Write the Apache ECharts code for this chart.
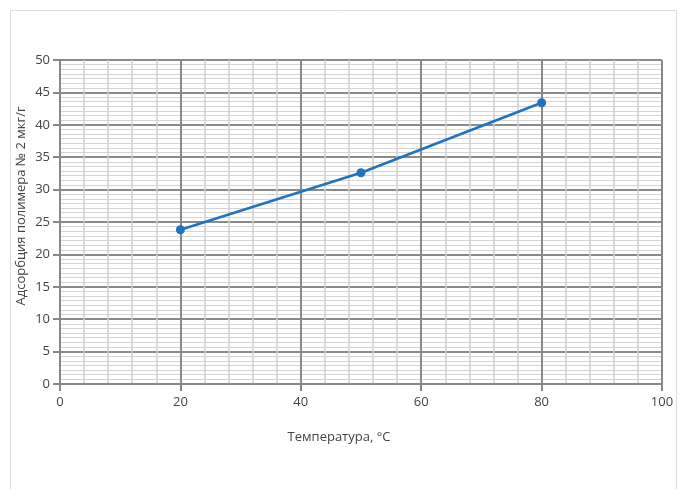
<!DOCTYPE html>
<html><head><meta charset="utf-8">
<script src="https://cdn.jsdelivr.net/npm/echarts@6/dist/echarts.min.js"></script>
<style>html,body{margin:0;padding:0;background:#fff}#c{width:683px;height:489px}</style>
</head><body><div id="c"></div>
<script>
const temperatures = [20, 50, 80];
const adsorption = [23.8, 32.6, 43.4];
const xTicks = [0, 20, 40, 60, 80, 100];
const yTicks = [0, 5, 10, 15, 20, 25, 30, 35, 40, 45, 50];
const yTitle = 'Адсорбция полимера № 2 мкг/г';
const xTitle = 'Температура, °C';

const chart = echarts.init(document.getElementById('c'), null, {renderer: 'canvas'});
const font = 'Open Sans';
chart.setOption({
  animation: false,
  backgroundColor: '#fff',
  graphic: [
    {type: 'rect', shape: {x: 10.5, y: 10.5, width: 666, height: 490}, style: {fill: 'none', stroke: '#dcdcdc', lineWidth: 1}},
    {type: 'text', x: 339, y: 437, style: {text: xTitle, font: '13px "Open Sans"', fill: '#444', align: 'center', verticalAlign: 'middle'}},
    {type: 'text', x: 21, y: 206, rotation: Math.PI / 2, style: {text: yTitle, font: '13px "Open Sans"', fill: '#444', align: 'center', verticalAlign: 'middle'}}
  ],
  grid: {left: 60, right: 21, top: 60, bottom: 105},
  xAxis: {
    type: 'value', min: xTicks[0], max: xTicks[xTicks.length - 1], interval: 20,
    axisLine: {show: true, lineStyle: {color: '#888', width: 2}},
    axisTick: {show: true, length: 7, lineStyle: {color: '#888', width: 2}},
    axisLabel: {color: '#444', fontSize: 13, fontFamily: font, margin: 12},
    splitLine: {show: true, lineStyle: {color: '#8a8a8a', width: 2}},
    minorTick: {show: false, splitNumber: 5},
    minorSplitLine: {show: true, lineStyle: {color: '#cfcfcf', width: 1.5}}
  },
  yAxis: {
    type: 'value', min: yTicks[0], max: yTicks[yTicks.length - 1], interval: 5,
    axisLine: {show: true, lineStyle: {color: '#888', width: 2}},
    axisTick: {show: true, length: 7, lineStyle: {color: '#888', width: 2}},
    axisLabel: {color: '#444', fontSize: 13, fontFamily: font, margin: 10},
    splitLine: {show: true, lineStyle: {color: '#8a8a8a', width: 2}},
    minorTick: {show: false, splitNumber: 7},
    minorSplitLine: {show: true, lineStyle: {color: '#d4d4d4', width: 1}}
  },
  series: [{
    type: 'line',
    data: temperatures.map((t, i) => [t, adsorption[i]]),
    lineStyle: {color: '#1f73c0', width: 2.5},
    itemStyle: {color: '#1f73c0'},
    symbol: 'circle', symbolSize: 9,
    z: 5
  }]
});
</script></body></html>
